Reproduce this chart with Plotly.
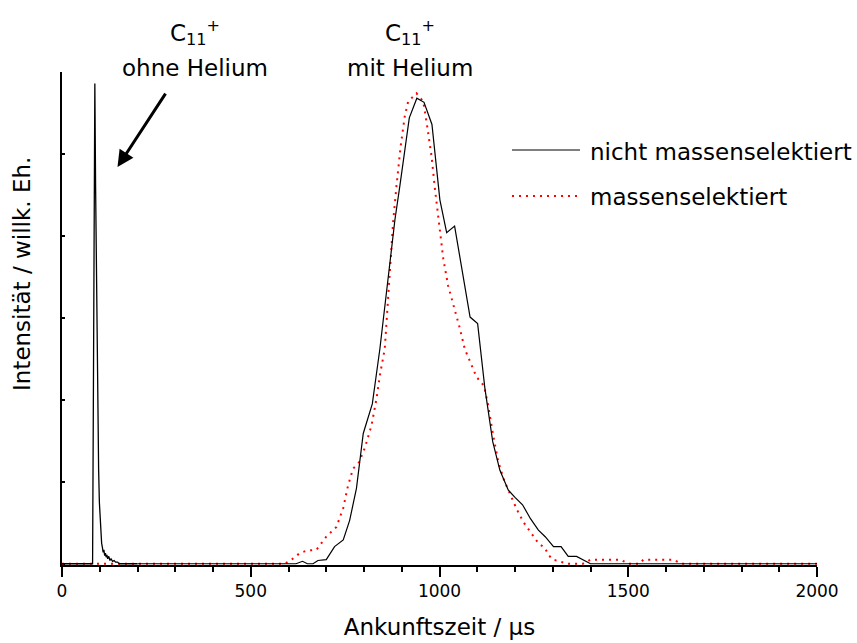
import plotly.graph_objects as go

# Arrival-time distributions of C11+ ions (time in µs, intensity in arbitrary units)

# C11+ without helium: narrow peak near 90 µs
ohne_he_t = [0, 78, 81, 83, 85, 87, 89, 91, 93, 95, 97, 99, 101, 103, 105, 107, 109,
             111, 113, 115, 117, 119, 121, 124, 127, 130, 134, 138, 142, 147, 152, 200]
ohne_he_y = [0, 0, 0.0, 1.9, 3.9, 5.86, 4.6, 3.5, 2.4, 1.7, 1.15, 0.75, 0.5, 0.36, 0.25, 0.2, 0.14,
             0.17, 0.1, 0.13, 0.08, 0.11, 0.06, 0.09, 0.04, 0.06, 0.03, 0.04, 0.02, 0.02, 0.0, 0]

# C11+ with helium, not mass selected
mit_he_t = [200, 620, 637, 650, 665, 678, 700, 722, 745, 762, 780, 798, 802, 822, 842, 858,
            869, 882, 895, 908, 920, 940, 959, 980, 1001, 1019, 1040, 1081, 1101, 1120,
            1141, 1160, 1182, 1200, 1220, 1241, 1262, 1280, 1302, 1322, 1341, 1363,
            1390, 1400, 2000]
mit_he_y = [0, 0, 0.03, 0, 0, 0.04, 0.05, 0.21, 0.29, 0.53, 0.92, 1.59, 1.65, 1.95, 2.62, 3.23,
            3.72, 4.2, 4.61, 5.03, 5.44, 5.68, 5.63, 5.36, 4.44, 4.04, 4.12, 3.01, 2.93, 2.15,
            1.49, 1.14, 0.90, 0.81, 0.72, 0.55, 0.41, 0.33, 0.21, 0.21, 0.09, 0.09,
            0.02, 0, 0]

# C11+ with helium, mass selected
sel_t = [0, 590, 608, 630, 648, 674, 700, 727, 745, 758, 771, 787, 802, 820, 833, 842,
         855, 862, 869, 877, 886, 897, 908, 917, 939, 957, 966, 979, 988, 999, 1010,
         1023, 1036, 1054, 1067, 1081, 1098, 1118, 1129, 1142, 1156, 1171, 1187, 1204,
         1222, 1244, 1262, 1280, 1288, 1301, 1319, 1340, 1380, 1400, 1480, 1500, 1530,
         1540, 1620, 1640, 2000]
sel_y = [0, 0, 0.05, 0.13, 0.16, 0.17, 0.33, 0.45, 0.68, 0.96, 1.16, 1.24, 1.41, 1.69, 2.01, 2.30,
         2.62, 3.1, 3.64, 4.16, 4.61, 5.09, 5.46, 5.64, 5.74, 5.64, 5.38, 4.97, 4.57, 4.12, 3.72,
         3.39, 3.18, 2.87, 2.62, 2.46, 2.28, 2.17, 1.93, 1.57, 1.24, 1.02, 0.84, 0.67,
         0.51, 0.37, 0.25, 0.19, 0.11, 0.05, 0.03, 0, 0, 0.05, 0.05, 0, 0,
         0.05, 0.05, 0, 0]

x_major = [0, 500, 1000, 1500, 2000]
x_labels = ["0", "500", "1000", "1500", "2000"]

legend_labels = ["nicht massenselektiert", "massenselektiert"]

FONT = "DejaVu Sans"
TXT = 23

fig = go.Figure()
fig.add_trace(go.Scatter(x=sel_t, y=sel_y, mode="lines",
                         line=dict(color="#ff0000", width=2, dash="2px,5px"),
                         showlegend=False))
fig.add_trace(go.Scatter(x=mit_he_t, y=mit_he_y, mode="lines",
                         line=dict(color="black", width=1.2), showlegend=False))
fig.add_trace(go.Scatter(x=ohne_he_t, y=ohne_he_y, mode="lines",
                         line=dict(color="black", width=1.3), showlegend=False))

# plot-area geometry in pixels, used for paper-coordinate placement
L, R, T, B = 62, 40, 72, 78
W, H = 857, 643
PW, PH = W - L - R, H - T - B


def px(x):
    return (x - L) / PW


def py(y):
    return (H - B - y) / PH


def label(text, x, y, xanchor="center", angle=0):
    return dict(text=text, x=px(x), y=py(y), xref="paper", yref="paper",
                xanchor=xanchor, yanchor="middle", textangle=angle, showarrow=False,
                font=dict(size=TXT, family=FONT, color="black"))


annotations = [
    label("C<sub>11</sub><sup>+</sup>", 195, 33),
    label("ohne Helium", 195, 68),
    label("C<sub>11</sub><sup>+</sup>", 410, 33),
    label("mit Helium", 410, 68),
    # arrow pointing at the narrow peak
    dict(text="", x=147, y=4.84, xref="x", yref="y", ax=49, ay=-75,
         showarrow=True, arrowhead=2, arrowsize=1.1, arrowwidth=3, arrowcolor="black",
         standoff=0, startstandoff=0),
    # legend entries
    label(legend_labels[0], 588, 152, xanchor="left"),
    label(legend_labels[1], 588, 197, xanchor="left"),
    # y-axis title
    label("Intensität / willk. Eh.", 22, 274, angle=-90),
]

shapes = [
    dict(type="line", xref="paper", yref="paper", x0=px(512), x1=px(580),
         y0=py(150), y1=py(150), line=dict(color="#555555", width=1.6)),
    dict(type="line", xref="paper", yref="paper", x0=px(512), x1=px(580),
         y0=py(196), y1=py(196), line=dict(color="#ff0000", width=2, dash="2px,5px")),
]

fig.update_layout(
    width=W, height=H,
    margin=dict(l=L, r=R, t=T, b=B, pad=0, autoexpand=False),
    paper_bgcolor="white", plot_bgcolor="white",
    font=dict(family=FONT, color="black"),
    showlegend=False,
    annotations=annotations,
    shapes=shapes,
    xaxis=dict(
        range=[0, 2000], tickvals=x_major, ticktext=x_labels,
        ticks="outside", ticklen=10, tickwidth=2, tickcolor="black",
        minor=dict(dtick=100, ticks="outside", ticklen=5, tickwidth=1.5, tickcolor="black"),
        showline=True, linecolor="black", linewidth=2, layer="below traces",
        showgrid=False, zeroline=False, automargin=False,
        tickfont=dict(size=17, family=FONT, color="black"),
        title=dict(text="Ankunftszeit / µs", font=dict(size=TXT, family=FONT, color="black"),
                   standoff=18),
    ),
    yaxis=dict(
        range=[-0.015, 6], dtick=1, tick0=0, showticklabels=False,
        ticks="inside", ticklen=3, tickwidth=1.5, tickcolor="black",
        showline=True, linecolor="black", linewidth=2, layer="below traces",
        showgrid=False, zeroline=False, automargin=False,
    ),
)

fig.write_html("out.html")
